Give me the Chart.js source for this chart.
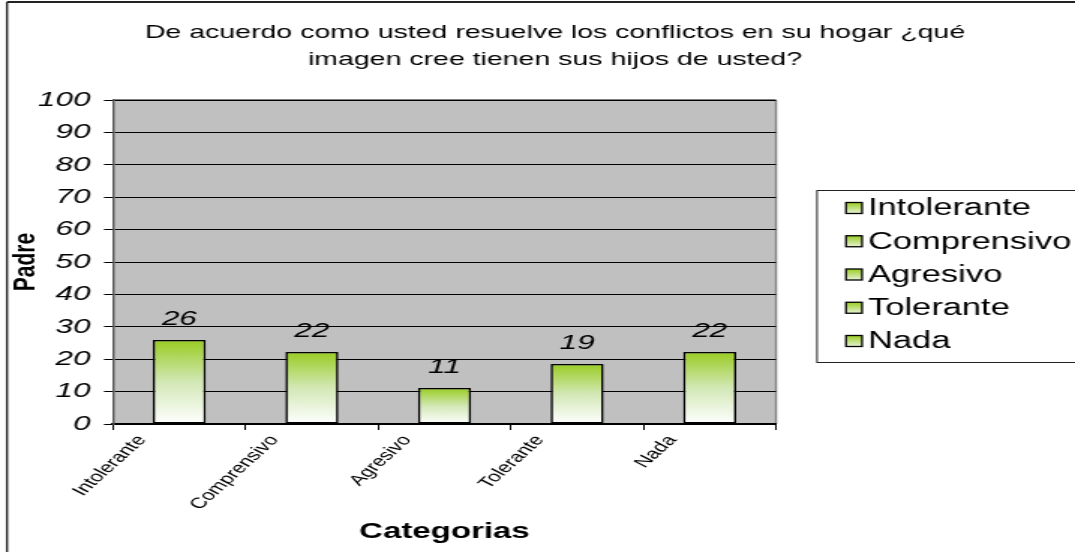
<!DOCTYPE html>
<html>
<head>
<meta charset="utf-8">
<script src="https://cdn.jsdelivr.net/npm/chart.js@4/dist/chart.umd.min.js"></script>
<style>
html,body{margin:0;padding:0;background:#fff;overflow:hidden;}
#c{display:block;width:1075px;height:552px;}
</style>
</head>
<body>
<canvas id="c" width="717" height="552" style="width:1075px;height:552px;"></canvas>
<script>
const chartTitle = ['De acuerdo como usted resuelve los conflictos en su hogar ¿qué', 'imagen cree tienen sus hijos de usted?'];
const categories = ['Intolerante', 'Comprensivo', 'Agresivo', 'Tolerante', 'Nada'];
const values = [25.93, 22.22, 11.11, 18.52, 22.22];
const valueLabels = ['26', '22', '11', '19', '22'];
const yTicks = [0, 10, 20, 30, 40, 50, 60, 70, 80, 90, 100];
const yTitle = 'Padre';
const xTitle = 'Categorias';

const FONT = '"Liberation Sans", Arial, sans-serif';
const SX = 717 / 1075; // internal canvas is drawn narrower and stretched by CSS

const decor = {
  id: 'decor',
  beforeDraw(chart) {
    const {ctx, chartArea: a} = chart;
    ctx.save();
    ctx.fillStyle = '#c0c0c0';
    ctx.fillRect(a.left, a.top, a.right - a.left, a.bottom - a.top);
    ctx.strokeStyle = '#808080';
    ctx.lineWidth = 2;
    ctx.beginPath();
    ctx.moveTo(a.left, a.top);
    ctx.lineTo(a.right, a.top);
    ctx.stroke();
    ctx.lineWidth = 1.4;
    ctx.beginPath();
    ctx.moveTo(a.right, a.top);
    ctx.lineTo(a.right, a.bottom);
    ctx.stroke();
    ctx.restore();
  },
  afterDraw(chart) {
    const {ctx} = chart;
    ctx.save();
    // outer frame (left and top visible)
    ctx.strokeStyle = '#222';
    ctx.lineWidth = 1.4;
    ctx.beginPath();
    ctx.moveTo(7 * SX, 552);
    ctx.lineTo(7 * SX, 2);
    ctx.stroke();
    ctx.lineWidth = 2;
    ctx.beginPath();
    ctx.moveTo(7 * SX, 2);
    ctx.lineTo(717, 2);
    ctx.stroke();
    // title
    ctx.fillStyle = '#000';
    ctx.font = '19px ' + FONT;
    ctx.textAlign = 'center';
    ctx.textBaseline = 'middle';
    chartTitle.forEach((line, i) => ctx.fillText(line, 555 * SX, 33 + i * 27));
    // data labels
    const meta = chart.getDatasetMeta(0);
    ctx.font = 'italic 21px ' + FONT;
    ctx.textAlign = 'center';
    ctx.textBaseline = 'alphabetic';
    meta.data.forEach((bar, i) => {
      ctx.fillText(valueLabels[i], bar.x, bar.y - 15);
    });
    // legend
    const lx = 817 * SX, ly = 190, lh = 172;
    ctx.strokeStyle = '#222';
    ctx.lineWidth = 1;
    ctx.strokeRect(lx, ly + 0.5, 717 - lx + 5, lh);
    ctx.font = '23px ' + FONT;
    ctx.textAlign = 'left';
    ctx.textBaseline = 'middle';
    categories.forEach((name, i) => {
      const cy = 208 + i * 33.25;
      const sx = 846 * SX, sw = 16 * SX, sh = 11;
      const g = ctx.createLinearGradient(0, cy - sh / 2, 0, cy + sh / 2);
      g.addColorStop(0, '#99cc22');
      g.addColorStop(1, '#e8f3d6');
      ctx.fillStyle = g;
      ctx.fillRect(sx, cy - sh / 2, sw, sh);
      ctx.strokeStyle = '#000';
      ctx.lineWidth = 1.3;
      ctx.strokeRect(sx, cy - sh / 2, sw, sh);
      ctx.fillStyle = '#000';
      ctx.fillText(name, 868 * SX, cy + 1);
    });
    ctx.restore();
  }
};

new Chart(document.getElementById('c'), {
  type: 'bar',
  data: {
    labels: categories,
    datasets: [{
      data: values,
      backgroundColor(context) {
        const chart = context.chart;
        const {ctx, chartArea} = chart;
        if (!chartArea) return '#99cc22';
        const y0 = chart.scales.y.getPixelForValue(0);
        const y1 = chart.scales.y.getPixelForValue(context.raw);
        const g = ctx.createLinearGradient(0, y1, 0, y0);
        g.addColorStop(0, '#99cc22');
        g.addColorStop(0.5, '#d3e8b6');
        g.addColorStop(1, '#ffffff');
        return g;
      },
      borderColor: '#000',
      borderWidth: 1.6,
      borderSkipped: false,
      categoryPercentage: 1,
      barPercentage: 0.4
    }]
  },
  plugins: [decor],
  options: {
    responsive: false,
    animation: false,
    devicePixelRatio: 1,
    layout: {padding: {left: 0, right: 717 - 776 * SX, top: 100, bottom: 0}},
    plugins: {
      legend: {display: false},
      tooltip: {enabled: false},
      title: {display: false}
    },
    scales: {
      x: {
        type: 'category',
        afterFit(scale) { scale.height = 128; },
        grid: {
          offset: true,
          drawOnChartArea: false,
          drawTicks: true,
          tickLength: 6,
          color: '#000',
          lineWidth: 1
        },
        border: {display: true, color: '#000', width: 2},
        ticks: {
          color: '#000',
          font: {family: FONT, size: 15},
          minRotation: 53,
          maxRotation: 53,
          autoSkip: false,
          labelOffset: -25,
          padding: 2
        },
        title: {
          display: true,
          text: xTitle,
          color: '#000',
          font: {family: FONT, size: 22, weight: 'bold'},
          padding: {top: 0, bottom: 7}
        }
      },
      y: {
        min: 0,
        max: 100,
        afterFit(scale) { scale.width = 113 * SX; },
        afterBuildTicks(scale) { scale.ticks = yTicks.map(v => ({value: v})); },
        grid: {
          color: '#000',
          lineWidth: 1,
          drawTicks: true,
          tickLength: 6
        },
        border: {display: true, color: '#555', width: 1.4},
        ticks: {
          color: '#000',
          font: {family: FONT, size: 21, style: 'italic'},
          padding: 9
        },
        title: {
          display: true,
          text: yTitle,
          color: '#000',
          font: {family: FONT, size: 21, weight: 'bold'},
          padding: {top: 5, bottom: 0}
        }
      }
    }
  }
});
</script>
</body>
</html>
